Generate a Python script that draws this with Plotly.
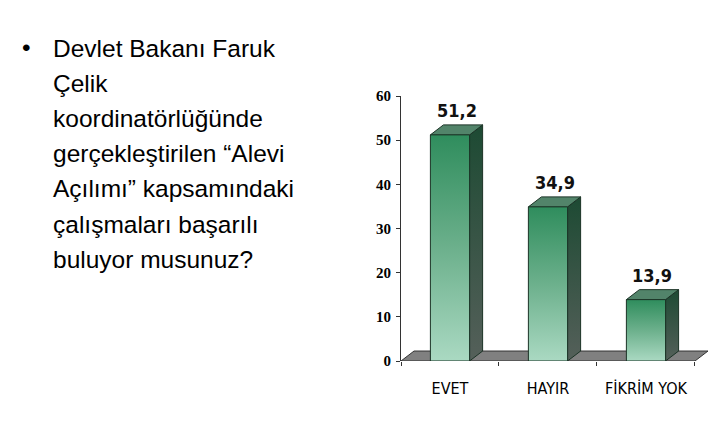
import plotly.graph_objects as go

# survey answers (percent)
categories = ["EVET", "HAYIR", "FİKRİM YOK"]
values = [51.2, 34.9, 13.9]
y_ticks = [0, 10, 20, 30, 40, 50, 60]

question_lines = [
    "Devlet Bakanı Faruk",
    "Çelik",
    "koordinatörlüğünde",
    "gerçekleştirilen “Alevi",
    "Açılımı” kapsamındaki",
    "çalışmaları başarılı",
    "buluyor musunuz?",
]

W, H = 726, 430
L, R, T, B = 401, 18, 95.5, 68.5
DX = 0.133   # depth of the 3d effect, category units
DY = 2.26    # depth of the 3d effect, value units
HALF = 0.2   # half bar width

OUTLINE = "#1b3326"
NARROW = "DejaVu Sans Condensed, Liberation Sans Narrow, Liberation Sans, Arial"

fig = go.Figure()

# floor
n = len(categories)
fig.add_trace(go.Scatter(
    x=[-0.5, n - 0.5, n - 0.5 + DX, -0.5 + DX, -0.5],
    y=[0, 0, DY, DY, 0],
    mode="lines", fill="toself", fillcolor="#808080",
    line=dict(color="#333333", width=1),
    hoverinfo="skip", showlegend=False,
))

for i, v in enumerate(values):
    x0, x1 = i - HALF, i + HALF
    # side face
    fig.add_trace(go.Scatter(
        x=[x1, x1, x1 + DX, x1 + DX, x1],
        y=[0, v, v + DY, DY, 0],
        mode="lines", fill="toself",
        fillgradient=dict(type="vertical",
                          colorscale=[[0, "#55605a"], [1, "#1d4a33"]]),
        line=dict(color=OUTLINE, width=1),
        hoverinfo="skip", showlegend=False,
    ))
    # top face
    fig.add_trace(go.Scatter(
        x=[x0, x0 + DX, x1 + DX, x1, x0],
        y=[v, v + DY, v + DY, v, v],
        mode="lines", fill="toself", fillcolor="#52846a",
        line=dict(color=OUTLINE, width=1),
        hoverinfo="skip", showlegend=False,
    ))
    # front face
    fig.add_trace(go.Scatter(
        x=[x0, x0, x1, x1, x0],
        y=[0, v, v, 0, 0],
        mode="lines", fill="toself",
        fillgradient=dict(type="vertical",
                          colorscale=[[0, "#aad9c2"], [0.5, "#6cb08c"], [1, "#2f8d5d"]]),
        line=dict(color=OUTLINE, width=1),
        name=categories[i], showlegend=False,
    ))
    fig.add_annotation(
        x=i + DX / 2, y=v + DY, xref="x", yref="y",
        text="<b>" + f"{v:.1f}".replace(".", ",") + "</b>",
        showarrow=False, yanchor="bottom", yshift=2,
        font=dict(family=NARROW, size=18, color="#111111"),
    )


def px_x(p):
    return (p - L) / (W - L - R)


def px_y(p):
    return (H - B - p) / (H - T - B)


# question text on the left
fig.add_annotation(
    x=px_x(27), y=px_y(47), xref="paper", yref="paper",
    text="•", showarrow=False, xanchor="center", yanchor="middle",
    font=dict(family="Liberation Sans, Arial", size=24.5, color="#000000"),
)
for k, line in enumerate(question_lines):
    fig.add_annotation(
        x=px_x(51), y=px_y(48 + 35.2 * k), xref="paper", yref="paper",
        text=line, showarrow=False, xanchor="left", yanchor="middle",
        font=dict(family="Liberation Sans, Arial", size=24.5, color="#000000"),
    )

fig.update_layout(
    width=W, height=H,
    margin=dict(l=L, r=R, t=T, b=B, pad=0),
    plot_bgcolor="white", paper_bgcolor="white",
    showlegend=False,
    xaxis=dict(
        range=[-0.5, n - 0.5 + DX],
        tickmode="array", tickvals=list(range(n)), ticktext=categories,
        ticks="", showgrid=False, zeroline=False, showline=False,
        tickfont=dict(family=NARROW, size=16, color="#000000"),
        ticklabelstandoff=16,
        minor=dict(tickmode="array", tickvals=[k - 0.5 for k in range(n + 1)],
                   ticks="outside", ticklen=4, tickcolor="#333333", showgrid=False),
        fixedrange=True,
    ),
    yaxis=dict(
        range=[0, 60],
        tickmode="array", tickvals=y_ticks,
        ticks="outside", ticklen=4, tickcolor="#333333",
        showline=True, linecolor="#333333", linewidth=1,
        showgrid=False, zeroline=False,
        tickfont=dict(family="Liberation Serif, Times New Roman", size=15,
                      weight="bold", color="#000000"),
        ticklabelstandoff=2,
        fixedrange=True,
    ),
)

# drop the default page margin so the figure sits at the window origin
fig.write_html("out.html", config={"displayModeBar": False},
               post_script="document.body.style.margin='0';")
